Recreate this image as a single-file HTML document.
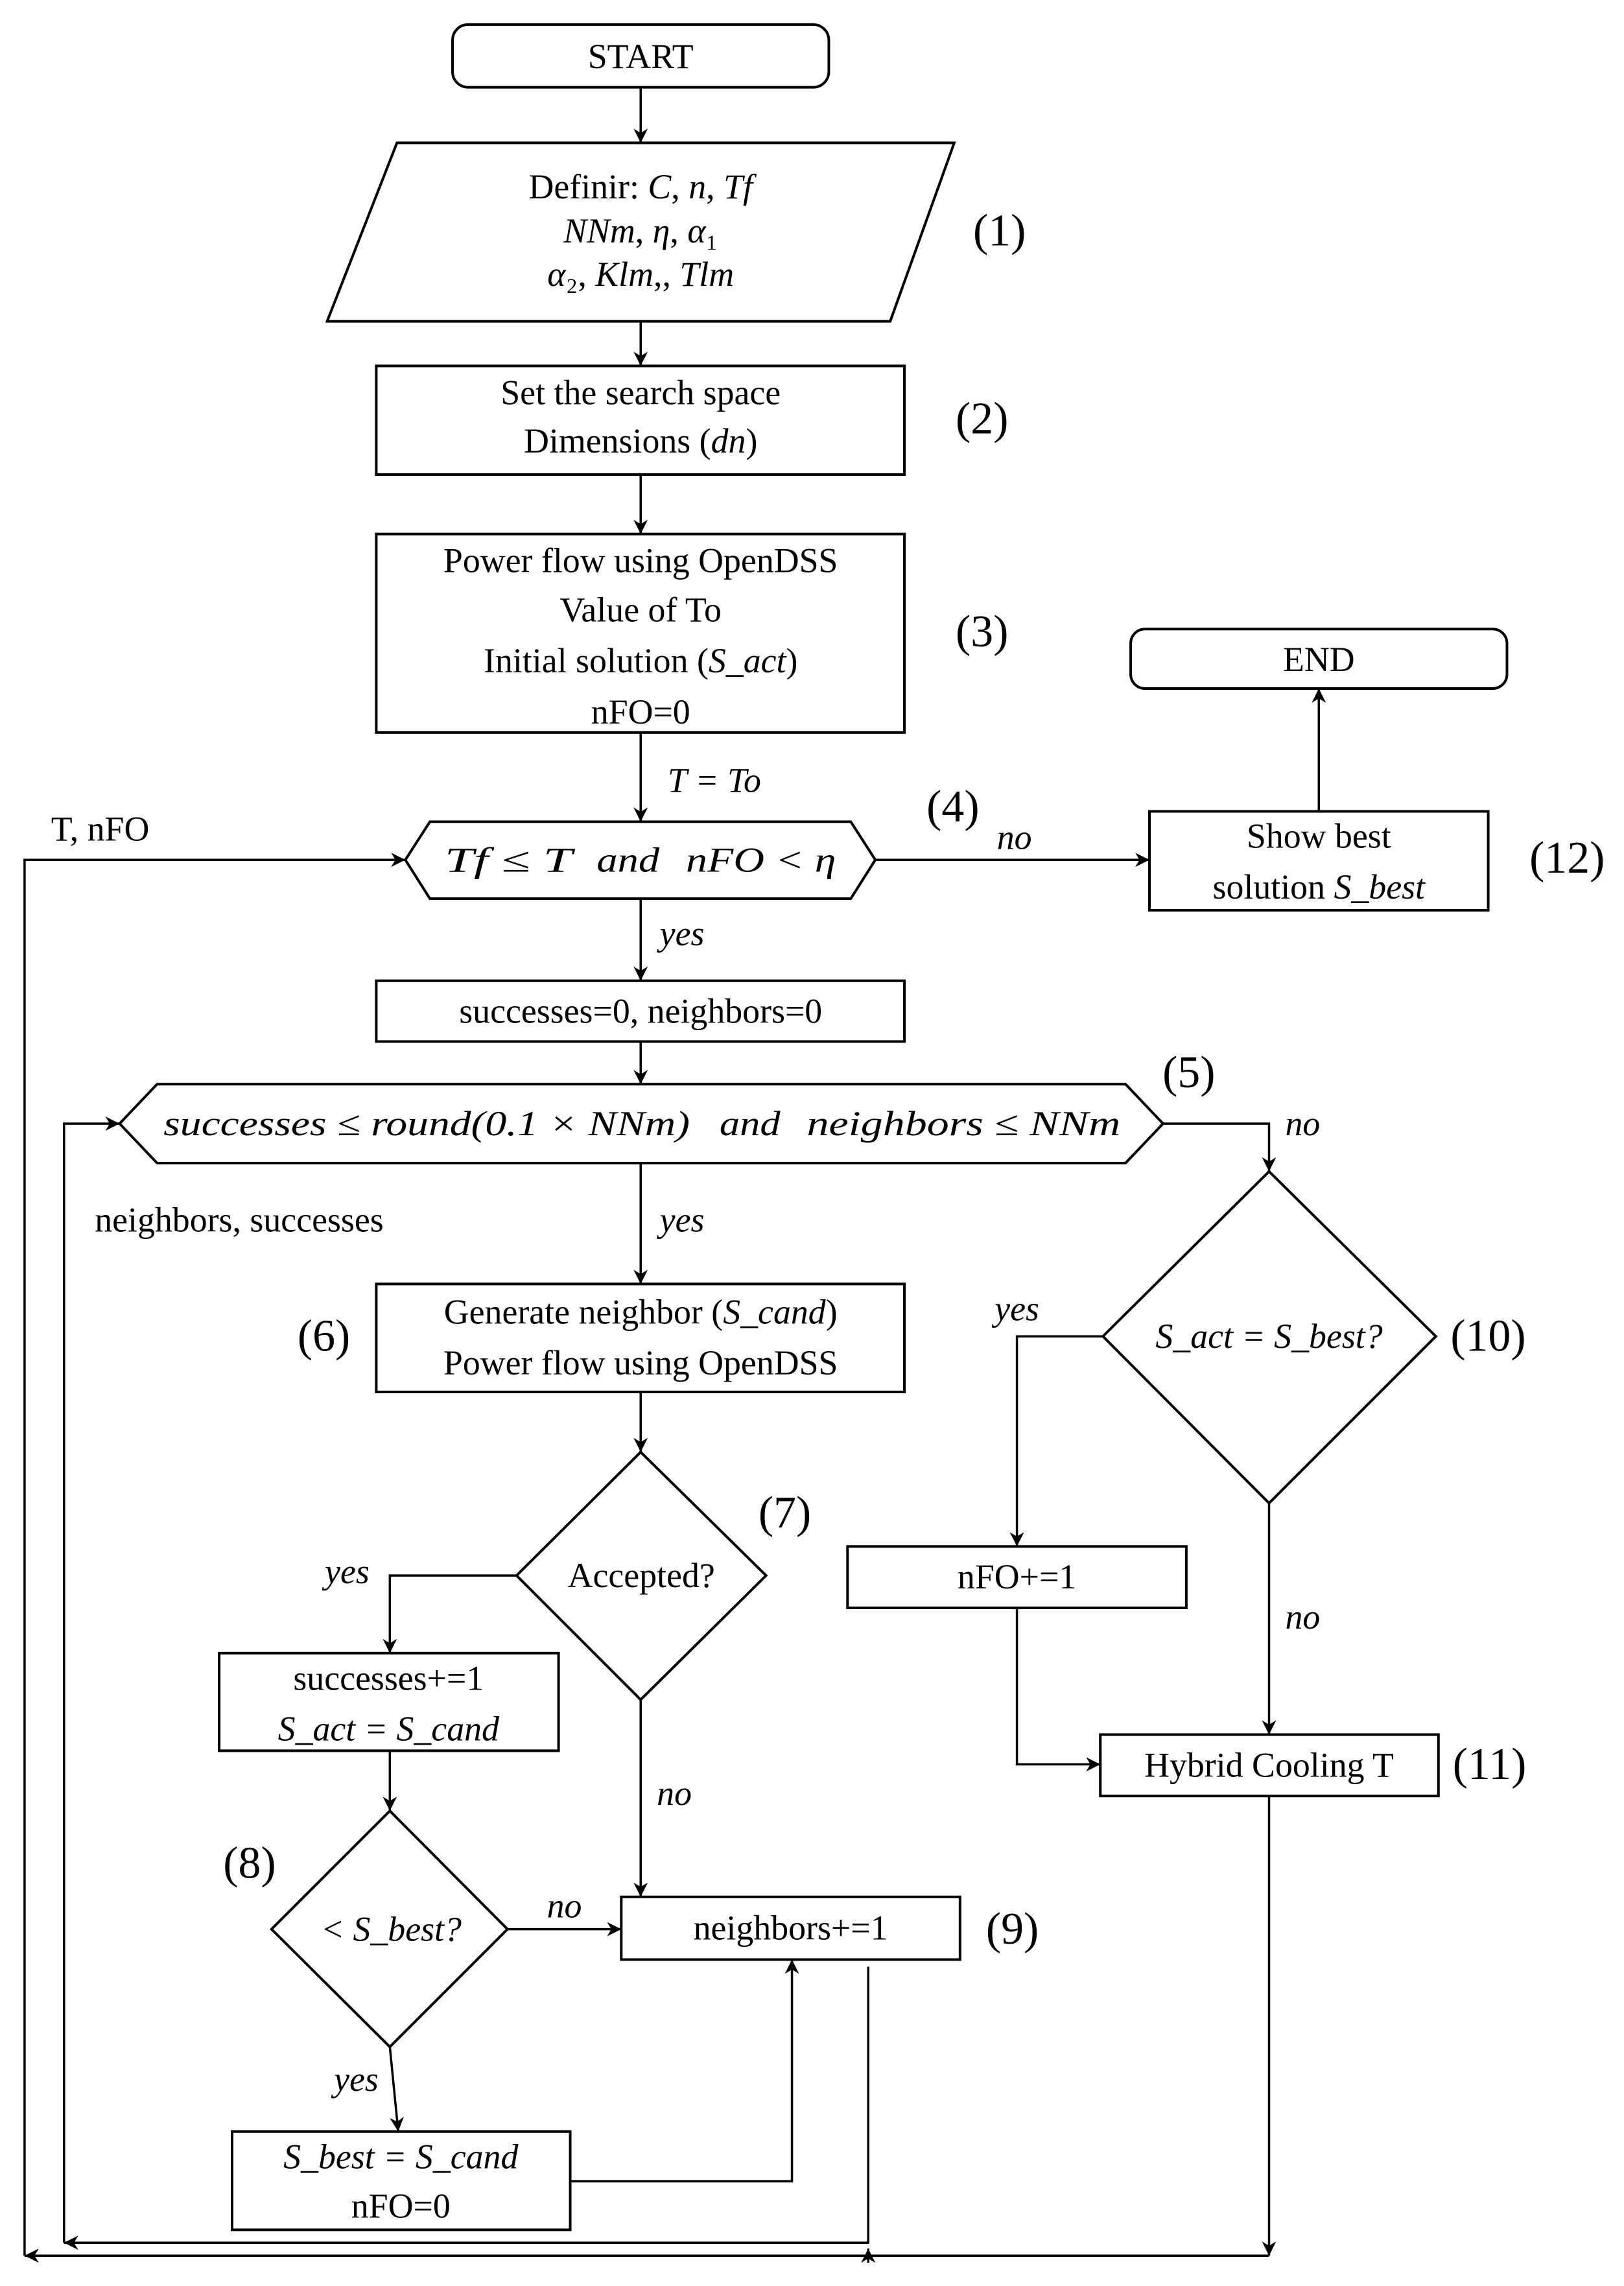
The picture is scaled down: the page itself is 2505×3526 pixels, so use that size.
<!DOCTYPE html>
<html><head><meta charset="utf-8"><style>
html,body{margin:0;padding:0;background:#fff}
svg{display:block}
text{font-family:"Liberation Serif",serif;font-size:54px;fill:#000}
.i{font-style:italic}
.n{font-size:70px}
</style></head><body>
<svg width="2505" height="3526" viewBox="0 0 2505 3526" xmlns="http://www.w3.org/2000/svg">
<defs>
<marker id="b" viewBox="0 0 10 10" refX="10" refY="5" markerWidth="22" markerHeight="22" markerUnits="userSpaceOnUse" orient="auto"><path d="M0,0 L10,5 L0,10 L3,5 z" fill="#000"/></marker></defs>
<g transform="scale(0.9972)">
<g fill="none" stroke="#000" stroke-width="4">
<rect x="700" y="38" width="582" height="97" rx="24"/>
<polygon points="614,221 1476,221 1377,497 506,497"/>
<rect x="582" y="566" width="817" height="168"/>
<rect x="582" y="826" width="817" height="307"/>
<polygon points="665,1271 1316,1271 1354,1330 1316,1390 665,1390 627,1330"/>
<rect x="1778" y="1255" width="524" height="153"/>
<rect x="1749" y="973" width="582" height="92" rx="22"/>
<rect x="582" y="1517" width="817" height="94"/>
<polygon points="243,1677 1741,1677 1799,1738 1741,1799 243,1799 185,1738"/>
<rect x="582" y="1986" width="817" height="167"/>
<polygon points="991,2246 1185,2437 991,2629 799,2437"/>
<rect x="339" y="2557" width="525" height="151"/>
<polygon points="603,2801 785,2984 603,3166 420,2984"/>
<rect x="961" y="2934" width="524" height="97"/>
<rect x="359" y="3297" width="523" height="152"/>
<polygon points="1963,1812 2221,2067 1963,2325 1706,2067"/>
<rect x="1311" y="2392" width="524" height="95"/>
<rect x="1702" y="2683" width="523" height="95"/>
</g>
<g fill="none" stroke="#000" stroke-width="3.5" marker-end="url(#b)">
<path d="M991,135 V221"/>
<path d="M991,497 V566"/>
<path d="M991,734 V826"/>
<path d="M991,1133 V1271"/>
<path d="M1354,1330 H1778"/>
<path d="M2040,1255 V1065"/>
<path d="M38,3489 V1330 H627"/>
<path d="M991,1390 V1517"/>
<path d="M991,1611 V1677"/>
<path d="M1799,1738 H1963 V1812"/>
<path d="M99,3469 V1738 H185"/>
<path d="M991,1799 V1986"/>
<path d="M991,2153 V2246"/>
<path d="M799,2437 H603 V2557"/>
<path d="M603,2708 V2801"/>
<path d="M785,2984 H961"/>
<path d="M991,2629 V2934"/>
<path d="M603,3166 L616,3297"/>
<path d="M882,3374 H1225 V3031"/>
<path d="M1343,3042 V3469 H99"/>
<path d="M1963,3489 H38"/>
<path d="M1706,2067 H1573 V2392"/>
<path d="M1573,2487 V2729 H1702"/>
<path d="M1963,2325 V2683"/>
<path d="M1963,2778 V3489"/>
<path d="M1343,3500 V3478"/>
</g>
<g dominant-baseline="central" class="i">
<text class="i" x="688" y="1330" textLength="197" lengthAdjust="spacingAndGlyphs">Tf ≤ T</text>
<text class="i" x="923" y="1330" textLength="97" lengthAdjust="spacingAndGlyphs">and</text>
<text class="i" x="1061" y="1330" textLength="232" lengthAdjust="spacingAndGlyphs">nFO &lt; η</text>
<text class="i" x="253" y="1738" textLength="814" lengthAdjust="spacingAndGlyphs">successes ≤ round(0.1 × NNm)</text>
<text class="i" x="1113" y="1738" textLength="94" lengthAdjust="spacingAndGlyphs">and</text>
<text class="i" x="1248" y="1738" textLength="485" lengthAdjust="spacingAndGlyphs">neighbors ≤ NNm</text>
</g>
<g text-anchor="middle" dominant-baseline="central">
<text x="991" y="87">START</text>
<text x="991" y="289">Definir: <tspan class="i">C</tspan>, <tspan class="i">n</tspan>, <tspan class="i">Tf</tspan></text>
<text x="991" y="357"><tspan class="i">NNm</tspan>, <tspan class="i">η</tspan>, <tspan class="i">α</tspan>₁</text>
<text x="991" y="424"><tspan class="i">α</tspan>₂, <tspan class="i">Klm</tspan>,, <tspan class="i">Tlm</tspan></text>
<text class="n" x="1546" y="357">(1)</text>
<text x="991" y="607">Set the search space</text>
<text x="991" y="682">Dimensions (<tspan class="i">dn</tspan>)</text>
<text class="n" x="1519" y="648">(2)</text>
<text x="991" y="867">Power flow using OpenDSS</text>
<text x="991" y="943">Value of To</text>
<text x="991" y="1022">Initial solution (<tspan class="i">S_act</tspan>)</text>
<text x="991" y="1101">nFO=0</text>
<text class="n" x="1519" y="977">(3)</text>
<text class="i" x="1105" y="1207">T = To</text>
<text class="n" x="1474" y="1248">(4)</text>
<text class="i" x="1569" y="1295">no</text>
<text x="2040" y="1293">Show best</text>
<text x="2040" y="1372">solution <tspan class="i">S_best</tspan></text>
<text class="n" x="2424" y="1327">(12)</text>
<text x="2040" y="1020">END</text>
<text x="155" y="1282">T, nFO</text>
<text class="i" x="1055" y="1444">yes</text>
<text x="991" y="1564">successes=0, neighbors=0</text>
<text class="n" x="1839" y="1659">(5)</text>
<text class="i" x="2015" y="1738">no</text>
<text x="370" y="1887">neighbors, successes</text>
<text class="i" x="1055" y="1887">yes</text>
<text x="991" y="2029">Generate neighbor (<tspan class="i">S_cand</tspan>)</text>
<text x="991" y="2108">Power flow using OpenDSS</text>
<text class="n" x="501" y="2067">(6)</text>
<text x="992" y="2437">Accepted?</text>
<text class="n" x="1214" y="2340">(7)</text>
<text class="i" x="537" y="2431">yes</text>
<text x="601" y="2596">successes+=1</text>
<text class="i" x="601" y="2674">S_act = S_cand</text>
<text class="i" x="605" y="2984">&lt; S_best?</text>
<text class="n" x="386" y="2882">(8)</text>
<text class="i" x="873" y="2948">no</text>
<text x="1223" y="2982">neighbors+=1</text>
<text class="n" x="1566" y="2984">(9)</text>
<text class="i" x="1043" y="2774">no</text>
<text class="i" x="551" y="3216">yes</text>
<text class="i" x="620" y="3336">S_best = S_cand</text>
<text x="620" y="3412">nFO=0</text>
<text class="i" x="1963" y="2067">S_act = S_best?</text>
<text class="n" x="2302" y="2067">(10)</text>
<text class="i" x="1573" y="2024">yes</text>
<text x="1573" y="2439">nFO+=1</text>
<text x="1963" y="2730">Hybrid Cooling T</text>
<text class="n" x="2304" y="2729">(11)</text>
<text class="i" x="2015" y="2501">no</text>
</g>
</g>
</svg>
</body></html>
